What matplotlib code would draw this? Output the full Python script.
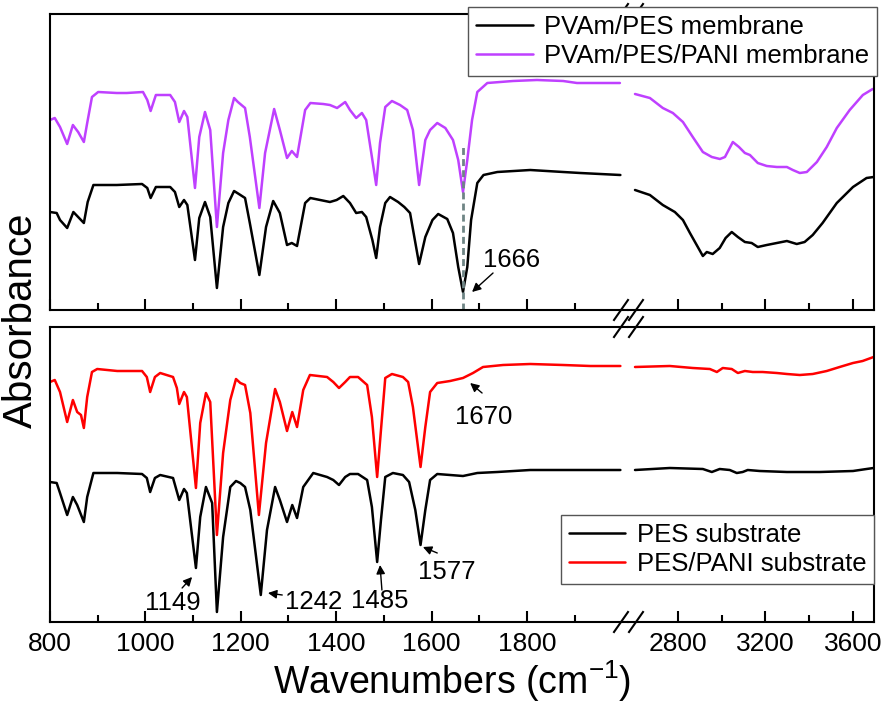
import matplotlib
matplotlib.use('Agg')
import matplotlib.pyplot as plt
from matplotlib.lines import Line2D
from matplotlib.ticker import FixedLocator

plt.rcParams['font.family'] = ['Liberation Sans', 'DejaVu Sans']
plt.rcParams['mathtext.fontset'] = 'custom'
plt.rcParams['mathtext.rm'] = 'Liberation Sans'
plt.rcParams['mathtext.it'] = 'Liberation Sans:italic'

# ---------------- data (absorbance, arbitrary offset units) ----------------
# Top panel, low-wavenumber segment
top_wn_black = [800, 814, 821, 836, 849, 859, 871, 879, 891, 940, 993, 1004, 1011, 1022, 1052, 1062,
                1071, 1081, 1088, 1104, 1113, 1125, 1136, 1150, 1163, 1174, 1186, 1196, 1209, 1219,
                1239, 1253, 1268, 1282, 1297, 1307, 1318, 1335, 1346, 1387, 1401, 1415, 1429, 1442,
                1454, 1463, 1476, 1484, 1492, 1503, 1513, 1530, 1543, 1555, 1574, 1587, 1602, 1614,
                1633, 1645, 1656, 1666, 1675, 1683, 1696, 1709, 1738, 1807, 1876, 1912, 1996]
top_ab_black = [0.98, 0.97, 0.90, 0.82, 0.98, 0.93, 0.87, 1.08, 1.25, 1.25, 1.26, 1.22, 1.12, 1.23, 1.23, 1.18,
                1.03, 1.10, 1.05, 0.50, 0.92, 1.08, 0.93, 0.22, 0.83, 1.07, 1.19, 1.16, 1.12, 0.87,
                0.35, 0.83, 1.09, 0.97, 0.65, 0.67, 0.64, 1.07, 1.12, 1.08, 1.10, 1.14, 1.07, 0.97,
                0.98, 0.93, 0.70, 0.52, 0.83, 1.07, 1.13, 1.08, 1.03, 0.97, 0.46, 0.73, 0.90, 0.96,
                0.91, 0.77, 0.43, 0.18, 0.43, 0.90, 1.27, 1.35, 1.38, 1.40, 1.38, 1.37, 1.35]

top_wn_purple = [800, 810, 821, 836, 848, 859, 871, 878, 888, 901, 940, 961, 995, 1004, 1011, 1022, 1052,
                 1062, 1071, 1081, 1088, 1104, 1113, 1125, 1136, 1150, 1163, 1174, 1186, 1194, 1209,
                 1219, 1239, 1251, 1270, 1282, 1297, 1307, 1318, 1335, 1346, 1373, 1387, 1402, 1419,
                 1429, 1442, 1454, 1463, 1475, 1484, 1492, 1503, 1517, 1534, 1549, 1561, 1574, 1587,
                 1597, 1612, 1629, 1645, 1656, 1666, 1675, 1685, 1696, 1717, 1771, 1821, 1876, 1905,
                 1947, 1995]
top_ab_purple = [1.90, 1.92, 1.83, 1.66, 1.85, 1.78, 1.68, 1.87, 2.13, 2.18, 2.17, 2.17, 2.18, 2.10, 1.99, 2.15, 2.15,
                 2.08, 1.88, 1.99, 1.93, 1.22, 1.73, 1.98, 1.80, 0.83, 1.57, 1.90, 2.12, 2.08, 2.02,
                 1.73, 1.02, 1.57, 2.01, 1.80, 1.52, 1.59, 1.53, 2.00, 2.07, 2.06, 2.05, 2.02, 2.08,
                 2.00, 1.92, 1.97, 1.90, 1.53, 1.25, 1.67, 2.03, 2.09, 2.05, 2.00, 1.80, 1.25, 1.70,
                 1.80, 1.87, 1.82, 1.70, 1.50, 1.18, 1.50, 1.90, 2.18, 2.27, 2.29, 2.30, 2.29, 2.27,
                 2.27, 2.27]

# Top panel, high-wavenumber segment
topr_wn_purple = [2604, 2672, 2731, 2777, 2823, 2868, 2914, 2955, 2992, 3015, 3051, 3079, 3106, 3129,
                  3165, 3206, 3252, 3298, 3325, 3357, 3389, 3435, 3480, 3526, 3585, 3645, 3690]
topr_ab_purple = [2.16, 2.12, 2.02, 1.97, 1.88, 1.73, 1.58, 1.53, 1.51, 1.53, 1.68, 1.63, 1.57, 1.55,
                  1.47, 1.44, 1.43, 1.43, 1.40, 1.37, 1.38, 1.48, 1.63, 1.82, 2.00, 2.15, 2.21]
topr_wn_black = [2604, 2672, 2731, 2786, 2823, 2855, 2891, 2914, 2932, 2959, 2991, 3018, 3046, 3074,
                 3106, 3137, 3165, 3206, 3252, 3298, 3343, 3379, 3416, 3461, 3526, 3600, 3662, 3694]
topr_ab_black = [1.20, 1.15, 1.05, 0.98, 0.90, 0.77, 0.63, 0.54, 0.58, 0.56, 0.62, 0.72, 0.78, 0.73,
                 0.68, 0.67, 0.63, 0.65, 0.67, 0.69, 0.66, 0.68, 0.75, 0.87, 1.07, 1.23, 1.32, 1.33]

# Bottom panel, low-wavenumber segment
bot_wn_red = [800, 810, 821, 836, 848, 857, 865, 871, 878, 888, 899, 941, 993, 1003, 1010, 1020, 1031,
              1058, 1066, 1071, 1081, 1087, 1106, 1115, 1127, 1136, 1150, 1163, 1178, 1190, 1199, 1209,
              1220, 1238, 1253, 1272, 1282, 1297, 1308, 1318, 1331, 1345, 1381, 1394, 1406, 1419, 1429,
              1446, 1465, 1475, 1486, 1494, 1503, 1517, 1540, 1551, 1561, 1577, 1587, 1597, 1612, 1639,
              1666, 1687, 1708, 1750, 1807, 1876, 1933, 1996]
bot_ab_red = [2.40, 2.42, 2.30, 2.00, 2.22, 2.10, 2.07, 1.94, 2.25, 2.50, 2.53, 2.51, 2.51, 2.45, 2.30, 2.45, 2.49,
              2.45, 2.34, 2.18, 2.30, 2.25, 1.34, 1.99, 2.29, 2.20, 0.87, 1.69, 2.22, 2.43, 2.39, 2.37,
              2.09, 1.07, 1.79, 2.33, 2.20, 1.91, 2.10, 1.95, 2.32, 2.47, 2.45, 2.40, 2.34, 2.40, 2.45,
              2.45, 2.37, 2.05, 1.45, 1.92, 2.44, 2.48, 2.45, 2.40, 2.15, 1.55, 1.95, 2.30, 2.39, 2.41,
              2.44, 2.49, 2.55, 2.57, 2.58, 2.57, 2.56, 2.56]
bot_wn_black = [800, 814, 821, 836, 848, 857, 871, 878, 891, 941, 993, 1003, 1010, 1020, 1031, 1058,
                1071, 1081, 1087, 1106, 1115, 1127, 1140, 1150, 1163, 1178, 1190, 1199, 1209, 1220,
                1242, 1255, 1272, 1282, 1297, 1308, 1318, 1331, 1352, 1381, 1394, 1406, 1419, 1429,
                1446, 1465, 1475, 1486, 1494, 1503, 1519, 1540, 1553, 1566, 1577, 1587, 1597, 1612,
                1639, 1666, 1696, 1738, 1807, 1876, 1996]
bot_ab_black = [1.40, 1.39, 1.29, 1.07, 1.25, 1.17, 1.00, 1.25, 1.49, 1.49, 1.48, 1.44, 1.30, 1.44, 1.47, 1.44,
                1.22, 1.33, 1.29, 0.54, 1.05, 1.35, 1.19, 0.10, 0.85, 1.35, 1.41, 1.39, 1.35, 1.12,
                0.27, 0.92, 1.35, 1.22, 1.00, 1.17, 1.04, 1.35, 1.49, 1.45, 1.42, 1.37, 1.45, 1.48,
                1.48, 1.42, 1.15, 0.60, 1.02, 1.45, 1.49, 1.47, 1.40, 1.12, 0.77, 1.12, 1.42, 1.48,
                1.47, 1.46, 1.49, 1.50, 1.52, 1.52, 1.52]

# Bottom panel, high-wavenumber segment
botr_wn_red = [2604, 2763, 2868, 2946, 2978, 3005, 3046, 3074, 3106, 3142, 3187, 3252, 3298, 3357,
               3416, 3480, 3539, 3600, 3644, 3694]
botr_ab_red = [2.55, 2.56, 2.54, 2.53, 2.50, 2.54, 2.53, 2.49, 2.51, 2.50, 2.50, 2.49, 2.48, 2.47,
               2.48, 2.51, 2.55, 2.59, 2.61, 2.65]
botr_wn_black = [2604, 2763, 2914, 2955, 2991, 3037, 3069, 3096, 3119, 3174, 3298, 3448, 3600, 3662, 3694]
botr_ab_black = [1.52, 1.54, 1.53, 1.50, 1.53, 1.52, 1.49, 1.50, 1.52, 1.51, 1.50, 1.50, 1.51, 1.53, 1.54]

left_major = [800, 1000, 1200, 1400, 1600, 1800]
left_minor = [900, 1100, 1300, 1500, 1700, 1900]
right_major = [2800, 3200, 3600]
right_minor = [3000, 3400]

labels_top = ['PVAm/PES membrane', 'PVAm/PES/PANI membrane']
labels_bot = ['PES substrate', 'PES/PANI substrate']

PURPLE = '#bf40ff'
RED = '#ff0000'
LW = 1.8

# ---------------- figure ----------------
W, H = 886, 707
fig = plt.figure(figsize=(W / 100, H / 100), dpi=100)

def fx(px):
    return px / W

def fy(py):
    return 1 - py / H

xl0, xl1, xr1 = 50, 628, 874
panels = {'top': (14, 310), 'bot': (327, 622)}
axes = {}
for key, (ytop, ybot) in panels.items():
    axL = fig.add_axes([fx(xl0), fy(ybot), fx(xl1 - xl0), (ybot - ytop) / H])
    axR = fig.add_axes([fx(xl1), fy(ybot), fx(xr1 - xl1), (ybot - ytop) / H])
    axes[key] = (axL, axR)
    for ax in (axL, axR):
        for s in ax.spines.values():
            s.set_linewidth(1.5)
        ax.set_yticks([])
        ax.tick_params(axis='x', which='both', direction='in', top=False, width=1.5,
                       labelsize=19, pad=7)
        ax.tick_params(axis='x', which='major', length=8)
        ax.tick_params(axis='x', which='minor', length=5)
    axL.spines['right'].set_visible(False)
    axR.spines['left'].set_visible(False)
    axL.set_xlim(800, 2012)
    axR.set_xlim(2572, 3696)
    axL.xaxis.set_major_locator(FixedLocator(left_major))
    axL.xaxis.set_minor_locator(FixedLocator(left_minor))
    axR.xaxis.set_major_locator(FixedLocator(right_major))
    axR.xaxis.set_minor_locator(FixedLocator(right_minor))
    axL.set_ylim(0, (ybot - ytop) / 100)
    axR.set_ylim(0, (ybot - ytop) / 100)
    if key == 'top':
        axL.tick_params(labelbottom=False)
        axR.tick_params(labelbottom=False)

tL, tR = axes['top']
bL, bR = axes['bot']

pk = dict(lw=LW, solid_joinstyle='round', solid_capstyle='round')
l1, = tL.plot(top_wn_black, top_ab_black, color='k', **pk)
l2, = tL.plot(top_wn_purple, top_ab_purple, color=PURPLE, **pk)
tR.plot(topr_wn_black, topr_ab_black, color='k', **pk)
tR.plot(topr_wn_purple, topr_ab_purple, color=PURPLE, **pk)
tL.plot([1666, 1666], [0, 1.65], color='#6f8585', lw=2, ls=(0, (2.5, 1.5)))

b1, = bL.plot(bot_wn_black, bot_ab_black, color='k', **pk)
b2, = bL.plot(bot_wn_red, bot_ab_red, color=RED, **pk)
bR.plot(botr_wn_black, botr_ab_black, color='k', **pk)
bR.plot(botr_wn_red, botr_ab_red, color=RED, **pk)

ap = dict(arrowstyle='-|>', color='k', lw=1.0, mutation_scale=13, shrinkA=0, shrinkB=0)
AFS = 18.5
tL.text(1767, 0.50, '1666', fontsize=AFS, ha='center', va='center')
tL.annotate('', xy=(1685, 0.18), xytext=(1729, 0.37), arrowprops=ap)

bL.text(1710, 2.05, '1670', fontsize=AFS, ha='center', va='center')
bL.annotate('', xy=(1681, 2.39), xytext=(1706, 2.29), arrowprops=ap)
bL.text(1631, 0.50, '1577', fontsize=AFS, ha='center', va='center')
bL.annotate('', xy=(1582, 0.75), xytext=(1612, 0.69), arrowprops=ap)
bL.text(1492, 0.21, '1485', fontsize=AFS, ha='center', va='center')
bL.annotate('', xy=(1492, 0.57), xytext=(1496, 0.32), arrowprops=ap)
bL.text(1352, 0.20, '1242', fontsize=AFS, ha='center', va='center')
bL.annotate('', xy=(1257, 0.29), xytext=(1287, 0.27), arrowprops=ap)
bL.text(1058, 0.19, '1149', fontsize=AFS, ha='center', va='center')
bL.annotate('', xy=(1098, 0.45), xytext=(1077, 0.34), arrowprops=ap)

# axis-break marks
for ypx in (14, 310, 327, 622):
    for cx in (621, 636):
        fig.add_artist(Line2D([fx(cx - 7), fx(cx + 7)], [fy(ypx + 10), fy(ypx - 10)],
                              color='k', lw=1.5))

legkw = dict(fontsize=18.5, frameon=True, fancybox=False, framealpha=1, edgecolor='#555555',
             handlelength=2.2, handletextpad=0.45, borderpad=0.3, labelspacing=0.2,
             borderaxespad=0)
lg1 = fig.legend([l1, l2], labels_top, loc='upper right', bbox_to_anchor=(fx(877), fy(7)), **legkw)
lg1.get_frame().set_linewidth(1.0)
lg2 = fig.legend([b1, b2], labels_bot, loc='upper right', bbox_to_anchor=(fx(874), fy(515)), **legkw)
lg2.get_frame().set_linewidth(1.0)

fig.text(fx(452), fy(681), 'Wavenumbers (cm$^{-1}$)', fontsize=27, ha='center', va='center')
fig.text(fx(21), fy(320), 'Absorbance', fontsize=29, ha='center', va='center', rotation=90)

fig.savefig('out.png', dpi=100)
